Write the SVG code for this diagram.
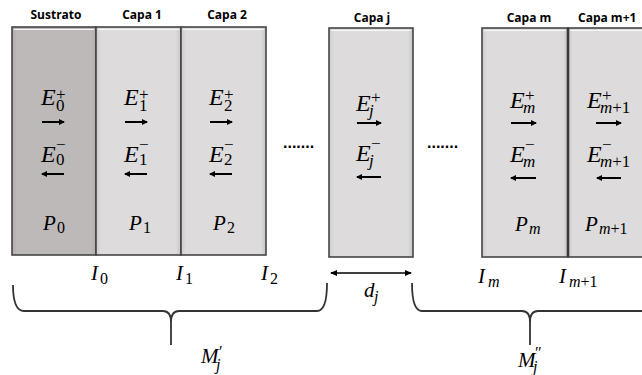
<svg xmlns="http://www.w3.org/2000/svg" width="642" height="375" viewBox="0 0 642 375">
<style>
.hdr{font-family:"Open Sans","Liberation Sans",sans-serif;font-weight:bold;font-size:12px;fill:#000}
.m{font-family:"Liberation Serif","DejaVu Serif",serif;font-style:italic;font-size:24px;fill:#000}
.mp{font-family:"Liberation Serif","DejaVu Serif",serif;font-style:italic;font-size:21px;fill:#000}
.s{font-family:"Liberation Serif","DejaVu Serif",serif;font-style:normal;font-size:17px}
.si{font-family:"Liberation Serif","DejaVu Serif",serif;font-style:italic;font-size:17px}
.ps{font-family:"Liberation Serif","DejaVu Serif",serif;font-style:normal;font-size:16px}
.psi{font-family:"Liberation Serif","DejaVu Serif",serif;font-style:italic;font-size:16px}
.n{font-style:normal}
.box{stroke:#454545;stroke-width:1.6}
.lt{fill:url(#gl)}
.dk{fill:url(#gd)}
.hl{stroke:#f6f6f6;stroke-width:1.2;fill:none}
.arr{stroke:#000;stroke-width:2;fill:none}
.brace{stroke:#333;stroke-width:1.8;fill:none}
.dots{font-family:"Liberation Sans",sans-serif;font-weight:bold;font-size:16px;fill:#000}
</style>
<defs>
<linearGradient id="gl" x1="0" y1="0" x2="1" y2="0">
<stop offset="0" stop-color="#cdcbcb"/><stop offset="0.06" stop-color="#dddbdb"/><stop offset="0.94" stop-color="#dddbdb"/><stop offset="1" stop-color="#c6c4c4"/>
</linearGradient>
<linearGradient id="gd" x1="0" y1="0" x2="1" y2="0">
<stop offset="0" stop-color="#b0acac"/><stop offset="0.06" stop-color="#bdb9b9"/><stop offset="0.94" stop-color="#bdb9b9"/><stop offset="1" stop-color="#b0acac"/>
</linearGradient>
<marker id="ah" markerWidth="6" markerHeight="6" refX="5" refY="3" orient="auto" markerUnits="userSpaceOnUse">
<path d="M0,0 L6,3 L0,6 Z" fill="#000"/>
</marker>
<marker id="ah2" markerWidth="7" markerHeight="7" refX="6" refY="3.5" orient="auto-start-reverse" markerUnits="userSpaceOnUse">
<path d="M0,0.5 L7,3.5 L0,6.5 Z" fill="#000"/>
</marker>
</defs>
<rect width="642" height="375" fill="#fff"/>

<g id="sustrato">
<text class="hdr" x="56" y="19" text-anchor="middle">Sustrato</text>
<rect class="box dk" x="12" y="27" width="84" height="228"/>
<line class="hl" x1="14" y1="29.5" x2="94" y2="29.5"/>
<text class="m" x="41" y="105">E<tspan class="s" x="56" y="100">+</tspan><tspan class="s" x="56" y="111">0</tspan></text>
<line class="arr" x1="42" y1="122" x2="64" y2="122" marker-end="url(#ah)"/>
<text class="m" x="41" y="162">E<tspan class="s" x="56" y="150">−</tspan><tspan class="s" x="56" y="165">0</tspan></text>
<line class="arr" x1="64" y1="174" x2="42" y2="174" marker-end="url(#ah)"/>
<text class="mp" x="43" y="230">P<tspan class="ps" x="57" y="233">0</tspan></text>
</g>

<g id="capa1">
<text class="hdr" x="142" y="19" text-anchor="middle">Capa 1</text>
<rect class="box lt" x="96" y="27" width="85" height="228"/>
<line class="hl" x1="98" y1="29.5" x2="179" y2="29.5"/>
<text class="m" x="124" y="105">E<tspan class="s" x="139" y="100">+</tspan><tspan class="s" x="139" y="111">1</tspan></text>
<line class="arr" x1="125" y1="122" x2="147" y2="122" marker-end="url(#ah)"/>
<text class="m" x="124" y="162">E<tspan class="s" x="139" y="150">−</tspan><tspan class="s" x="139" y="165">1</tspan></text>
<line class="arr" x1="147" y1="174" x2="125" y2="174" marker-end="url(#ah)"/>
<text class="mp" x="129" y="230">P<tspan class="ps" x="143" y="233">1</tspan></text>
</g>

<g id="capa2">
<text class="hdr" x="227" y="19" text-anchor="middle">Capa 2</text>
<rect class="box lt" x="181" y="27" width="85" height="228"/>
<line class="hl" x1="183" y1="29.5" x2="264" y2="29.5"/>
<text class="m" x="209" y="105">E<tspan class="s" x="224" y="100">+</tspan><tspan class="s" x="224" y="111">2</tspan></text>
<line class="arr" x1="210" y1="122" x2="232" y2="122" marker-end="url(#ah)"/>
<text class="m" x="209" y="162">E<tspan class="s" x="224" y="150">−</tspan><tspan class="s" x="224" y="165">2</tspan></text>
<line class="arr" x1="232" y1="174" x2="210" y2="174" marker-end="url(#ah)"/>
<text class="mp" x="213" y="230">P<tspan class="ps" x="227" y="233">2</tspan></text>
</g>

<g id="dots1"><text class="dots" x="283" y="148">.......</text></g>

<g id="capaj">
<text class="hdr" x="372" y="22" text-anchor="middle">Capa j</text>
<rect class="box lt" x="329" y="28" width="84" height="229"/>
<line class="hl" x1="331" y1="30.5" x2="411" y2="30.5"/>
<text class="m" x="356" y="111">E<tspan class="s" x="371" y="103">+</tspan><tspan class="si" x="369" y="116">j</tspan></text>
<line class="arr" x1="357" y1="123" x2="381" y2="123" marker-end="url(#ah)"/>
<text class="m" x="356" y="161">E<tspan class="s" x="371" y="149">−</tspan><tspan class="si" x="369" y="166">j</tspan></text>
<line class="arr" x1="381" y1="177" x2="357" y2="177" marker-end="url(#ah)"/>
</g>

<g id="dots2"><text class="dots" x="427" y="148">.......</text></g>

<g id="capam">
<text class="hdr" x="529" y="22" text-anchor="middle">Capa m</text>
<rect class="box lt" x="482" y="28" width="86" height="229"/>
<line class="hl" x1="484" y1="30.5" x2="566" y2="30.5"/>
<text class="m" x="510" y="108">E<tspan class="s" x="525" y="101">+</tspan><tspan class="si" x="523" y="113">m</tspan></text>
<line class="arr" x1="511" y1="123" x2="536" y2="123" marker-end="url(#ah)"/>
<text class="m" x="510" y="162">E<tspan class="s" x="525" y="150">−</tspan><tspan class="si" x="523" y="167">m</tspan></text>
<line class="arr" x1="536" y1="178" x2="511" y2="178" marker-end="url(#ah)"/>
<text class="mp" x="515" y="231">P<tspan class="psi" x="529" y="234">m</tspan></text>
</g>

<g id="capam1">
<text class="hdr" x="578" y="22">Capa m+1</text>
<rect class="box lt" x="568" y="28" width="80" height="229"/>
<line x1="568" y1="28" x2="568" y2="257" stroke="#3a3a3a" stroke-width="2.6"/>
<line class="hl" x1="570" y1="30.5" x2="642" y2="30.5"/>
<text class="m" x="587" y="108">E<tspan class="s" x="602" y="101">+</tspan><tspan class="si" x="600" y="113">m<tspan class="n">+1</tspan></tspan></text>
<line class="arr" x1="596" y1="123" x2="621" y2="123" marker-end="url(#ah)"/>
<text class="m" x="587" y="162">E<tspan class="s" x="602" y="150">−</tspan><tspan class="si" x="600" y="167">m<tspan class="n">+1</tspan></tspan></text>
<line class="arr" x1="621" y1="178" x2="597" y2="178" marker-end="url(#ah)"/>
<text class="mp" x="585" y="231">P<tspan class="psi" x="599" y="234">m<tspan class="n">+1</tspan></tspan></text>
</g>

<g id="interfaces">
<text class="mp" x="91" y="280">I<tspan class="ps" x="100" y="284">0</tspan></text>
<text class="mp" x="176" y="280">I<tspan class="ps" x="185" y="284">1</tspan></text>
<text class="mp" x="261" y="280">I<tspan class="ps" x="270" y="284">2</tspan></text>
<text class="mp" x="478" y="283">I<tspan class="psi" x="488" y="287">m</tspan></text>
<text class="mp" x="559" y="283">I<tspan class="psi" x="569" y="287">m<tspan class="n">+1</tspan></tspan></text>
</g>

<g id="connectors">
<line x1="331" y1="273" x2="411" y2="273" stroke="#000" stroke-width="1.6" marker-start="url(#ah2)" marker-end="url(#ah2)"/>
<path class="brace" d="M13,285 Q13,311 24,311 L163,311 Q171,311 171,322 L171,345 M171,322 Q171,311 179,311 L317,311 Q327,311 327,283"/>
<path class="brace" d="M412,283 Q412,311 422,311 L522,311 Q530,311 530,322 L530,345 M530,322 Q530,311 538,311 L642,311"/>
</g>

<g id="labels">
<text class="mp" x="364" y="297">d<tspan class="psi" x="374" y="302">j</tspan></text>
<text class="mp" x="201" y="363">M<tspan class="ps" x="219" y="357">′</tspan><tspan class="psi" x="216" y="370">j</tspan></text>
<text class="mp" x="518" y="367">M<tspan class="ps" x="535" y="358">″</tspan><tspan class="psi" x="533" y="372">j</tspan></text>
</g>
</svg>
